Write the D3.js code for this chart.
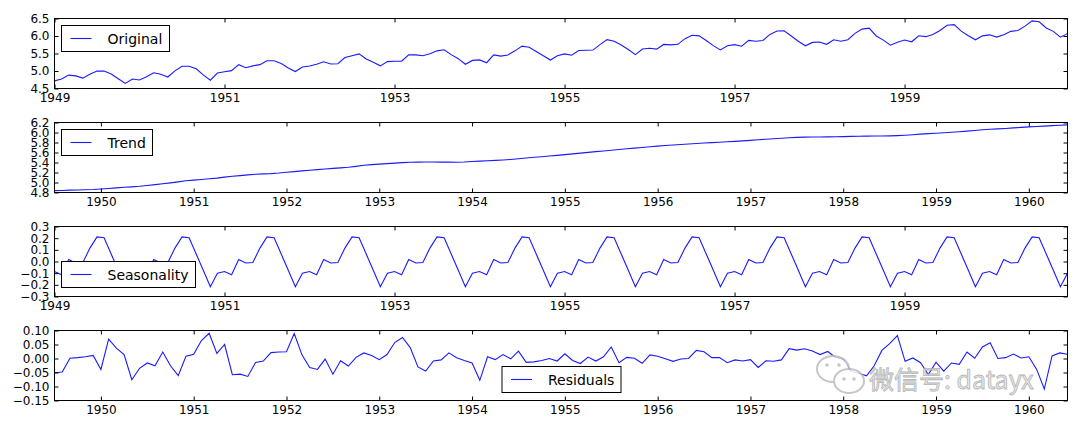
<!DOCTYPE html>
<html>
<head>
<meta charset="utf-8">
<script src="https://cdn.jsdelivr.net/npm/d3@7"></script>
<style>
  html, body { margin: 0; padding: 0; background: #fff; }
  svg { display: block; font-family: "DejaVu Sans", sans-serif; }
</style>
</head>
<body>
<div id="chart"></div>
<script>
// log(passengers), monthly 1949-01 .. 1960-12
const original = [
  4.718, 4.771, 4.883, 4.860, 4.796, 4.905, 4.997, 4.997, 4.913, 4.779, 4.644, 4.771,
  4.745, 4.836, 4.949, 4.905, 4.828, 5.004, 5.136, 5.136, 5.063, 4.890, 4.736, 4.942,
  4.977, 5.011, 5.182, 5.094, 5.147, 5.182, 5.293, 5.293, 5.215, 5.088, 4.984, 5.112,
  5.142, 5.193, 5.263, 5.199, 5.209, 5.385, 5.438, 5.489, 5.342, 5.252, 5.147, 5.268,
  5.278, 5.278, 5.464, 5.460, 5.434, 5.493, 5.576, 5.606, 5.468, 5.352, 5.193, 5.303,
  5.318, 5.236, 5.460, 5.425, 5.455, 5.576, 5.710, 5.680, 5.557, 5.434, 5.313, 5.434,
  5.489, 5.451, 5.587, 5.595, 5.598, 5.753, 5.897, 5.849, 5.743, 5.613, 5.468, 5.628,
  5.649, 5.624, 5.759, 5.746, 5.762, 5.924, 6.023, 6.004, 5.872, 5.724, 5.602, 5.724,
  5.753, 5.707, 5.875, 5.852, 5.872, 6.045, 6.142, 6.146, 6.001, 5.849, 5.720, 5.817,
  5.829, 5.762, 5.892, 5.852, 5.894, 6.075, 6.196, 6.225, 6.001, 5.883, 5.737, 5.820,
  5.886, 5.835, 6.006, 5.981, 6.040, 6.157, 6.306, 6.326, 6.138, 6.009, 5.892, 6.004,
  6.033, 5.969, 6.038, 6.133, 6.157, 6.282, 6.433, 6.407, 6.230, 6.133, 5.966, 6.068
]

// 1949-07 .. 1960-06
const trend = [
  4.837, 4.841, 4.847, 4.851, 4.855, 4.860,
  4.870, 4.881, 4.893, 4.904, 4.913, 4.924, 4.941, 4.957, 4.974, 4.992, 5.013, 5.034,
  5.048, 5.061, 5.074, 5.088, 5.107, 5.124, 5.138, 5.153, 5.164, 5.172, 5.178, 5.189,
  5.204, 5.218, 5.232, 5.244, 5.257, 5.271, 5.283, 5.292, 5.304, 5.323, 5.344, 5.357,
  5.368, 5.378, 5.388, 5.398, 5.404, 5.407, 5.410, 5.410, 5.408, 5.407, 5.406, 5.411,
  5.420, 5.428, 5.435, 5.442, 5.451, 5.461, 5.474, 5.490, 5.504, 5.516, 5.529, 5.543,
  5.558, 5.573, 5.588, 5.603, 5.617, 5.631, 5.646, 5.660, 5.674, 5.688, 5.701, 5.715,
  5.727, 5.739, 5.751, 5.761, 5.771, 5.780, 5.789, 5.797, 5.805, 5.814, 5.823, 5.833,
  5.843, 5.854, 5.865, 5.876, 5.886, 5.895, 5.902, 5.907, 5.910, 5.911, 5.912, 5.914,
  5.917, 5.923, 5.926, 5.928, 5.930, 5.931, 5.933, 5.938, 5.946, 5.956, 5.968, 5.977,
  5.985, 5.994, 6.004, 6.015, 6.027, 6.041, 6.055, 6.066, 6.073, 6.081, 6.092, 6.102,
  6.113, 6.121, 6.128, 6.137, 6.146, 6.152
]

// 1949-01 .. 1960-12
const seasonal = [
  -0.086, -0.114, 0.018, -0.013, -0.009, 0.115, 0.211, 0.204, 0.065, -0.075, -0.216, -0.100,
  -0.086, -0.114, 0.018, -0.013, -0.009, 0.115, 0.211, 0.204, 0.065, -0.075, -0.216, -0.100,
  -0.086, -0.114, 0.018, -0.013, -0.009, 0.115, 0.211, 0.204, 0.065, -0.075, -0.216, -0.100,
  -0.086, -0.114, 0.018, -0.013, -0.009, 0.115, 0.211, 0.204, 0.065, -0.075, -0.216, -0.100,
  -0.086, -0.114, 0.018, -0.013, -0.009, 0.115, 0.211, 0.204, 0.065, -0.075, -0.216, -0.100,
  -0.086, -0.114, 0.018, -0.013, -0.009, 0.115, 0.211, 0.204, 0.065, -0.075, -0.216, -0.100,
  -0.086, -0.114, 0.018, -0.013, -0.009, 0.115, 0.211, 0.204, 0.065, -0.075, -0.216, -0.100,
  -0.086, -0.114, 0.018, -0.013, -0.009, 0.115, 0.211, 0.204, 0.065, -0.075, -0.216, -0.100,
  -0.086, -0.114, 0.018, -0.013, -0.009, 0.115, 0.211, 0.204, 0.065, -0.075, -0.216, -0.100,
  -0.086, -0.114, 0.018, -0.013, -0.009, 0.115, 0.211, 0.204, 0.065, -0.075, -0.216, -0.100,
  -0.086, -0.114, 0.018, -0.013, -0.009, 0.115, 0.211, 0.204, 0.065, -0.075, -0.216, -0.100,
  -0.086, -0.114, 0.018, -0.013, -0.009, 0.115, 0.211, 0.204, 0.065, -0.075, -0.216, -0.100
]

// 1949-07 .. 1960-06
const residuals = [
  -0.051, -0.048, 0.001, 0.003, 0.006, 0.011,
  -0.039, 0.069, 0.037, 0.014, -0.076, -0.035, -0.016, -0.026, 0.023, -0.026, -0.061, 0.008,
  0.015, 0.064, 0.090, 0.018, 0.050, -0.058, -0.056, -0.064, -0.014, -0.009, 0.021, 0.023,
  0.024, 0.089, 0.013, -0.032, -0.039, -0.002, -0.056, -0.008, -0.027, 0.004, 0.020, 0.011,
  -0.004, 0.014, 0.057, 0.075, 0.039, -0.030, -0.045, -0.009, -0.005, 0.020, 0.003, -0.007,
  -0.016, -0.078, 0.006, -0.004, 0.014, -0.001, 0.026, -0.014, -0.012, -0.007, 0.000, -0.009,
  0.017, -0.007, -0.018, 0.005, -0.009, 0.006, 0.041, -0.015, 0.004, 0.001, -0.017, 0.013,
  0.008, -0.001, -0.010, -0.002, 0.000, 0.029, 0.024, 0.003, 0.003, -0.015, -0.005, -0.009,
  -0.004, -0.032, -0.008, -0.010, -0.005, 0.035, 0.030, 0.035, 0.027, 0.014, 0.025, 0.004,
  -0.003, -0.046, -0.053, -0.062, -0.026, 0.029, 0.053, 0.082, -0.010, 0.002, -0.015, -0.057,
  -0.013, -0.045, -0.016, -0.021, 0.023, 0.001, 0.041, 0.056, 0.000, 0.003, 0.016, 0.002,
  0.006, -0.038, -0.109, 0.009, 0.020, 0.015
]

const everyOtherYear = [1949, 1951, 1953, 1955, 1957, 1959]
const everyYear = [1950, 1951, 1952, 1953, 1954, 1955, 1956, 1957, 1958, 1959, 1960]
const originalTicks = [4.5, 5.0, 5.5, 6.0, 6.5]
const trendTicks = [4.8, 5.0, 5.2, 5.4, 5.6, 5.8, 6.0, 6.2]
const seasonalTicks = [-0.3, -0.2, -0.1, 0.0, 0.1, 0.2, 0.3]
const residualTicks = [-0.15, -0.10, -0.05, 0.00, 0.05, 0.10]

// 月份 -> 小数年份
const fullMonths = d3.range(original.length).map(i => 1949 + i / 12)
const innerMonths = fullMonths.slice(6, 6 + trend.length)

const panels = [
  { label: 'Original', values: original, months: fullMonths, yDomain: [4.5, 6.5], yTicks: originalTicks, fmt: '.1f', xTicks: everyOtherYear, legend: 'upper left' },
  { label: 'Trend', values: trend, months: innerMonths, yDomain: [4.8, 6.2], yTicks: trendTicks, fmt: '.1f', xTicks: everyYear, legend: 'upper left' },
  { label: 'Seasonality', values: seasonal, months: fullMonths, yDomain: [-0.3, 0.3], yTicks: seasonalTicks, fmt: '.1f', xTicks: everyOtherYear, legend: 'lower left' },
  { label: 'Residuals', values: residuals, months: innerMonths, yDomain: [-0.15, 0.10], yTicks: residualTicks, fmt: '.2f', xTicks: everyYear, legend: 'lower center' }
]

const width = 1080, height = 429
const left = 54.5, right = 1067.5
const tops = [18.5, 122.5, 226.5, 330.5]
const ph = 70

const svg = d3.select('#chart').append('svg')
  .attr('width', width)
  .attr('height', height)

svg.append('rect').attr('width', width).attr('height', height).attr('fill', '#fff')

function styleAxis(sel) {
  sel.select('.domain').remove()
  sel.selectAll('line').attr('stroke', '#000')
  sel.selectAll('text').attr('fill', '#000').attr('font-size', 12)
  sel.attr('font-family', null)
}

panels.forEach((p, i) => {
  const g = svg.append('g').attr('transform', `translate(0,${tops[i]})`)
  const m = p.months
  const x = d3.scaleLinear().domain([m[0], m[m.length - 1]]).range([left, right])
  const y = d3.scaleLinear().domain(p.yDomain).range([ph, 0])

  const line = d3.line()
    .x((d, j) => x(m[j]))
    .y(d => y(d))

  g.append('path')
    .datum(p.values)
    .attr('d', line)
    .attr('fill', 'none')
    .attr('stroke', '#1a1aff')
    .attr('stroke-width', 1.1)

  // ticks point inward on all four sides
  g.append('g').attr('transform', `translate(0,${ph})`)
    .call(d3.axisBottom(x).tickValues(p.xTicks).tickFormat(d3.format('d')).tickSize(-4).tickPadding(5))
    .call(styleAxis)
  g.append('g')
    .call(d3.axisTop(x).tickValues(p.xTicks).tickFormat('').tickSize(-4))
    .call(styleAxis)
  g.append('g').attr('transform', `translate(${left},0)`)
    .call(d3.axisLeft(y).tickValues(p.yTicks).tickFormat(d3.format(p.fmt)).tickSize(-4).tickPadding(5))
    .call(styleAxis)
  g.append('g').attr('transform', `translate(${right},0)`)
    .call(d3.axisRight(y).tickValues(p.yTicks).tickFormat('').tickSize(-4))
    .call(styleAxis)

  g.append('rect')
    .attr('x', left).attr('y', 0)
    .attr('width', right - left).attr('height', ph)
    .attr('fill', 'none')
    .attr('stroke', '#000')
    .attr('stroke-width', 1)

  // legend
  const lg = g.append('g')
  const box = lg.append('rect')
    .attr('fill', '#fff')
    .attr('stroke', '#000')
    .attr('stroke-width', 1)
  lg.append('line')
    .attr('x1', 9).attr('x2', 30).attr('y1', 13).attr('y2', 13)
    .attr('stroke', '#1a1aff').attr('stroke-width', 1.1)
  const txt = lg.append('text')
    .attr('x', 46).attr('y', 18)
    .attr('font-size', 14)
    .attr('fill', '#000')
    .text(p.label)
  const bw = Math.round(46 + txt.node().getComputedTextLength() + 7)
  const bh = 26
  box.attr('width', bw).attr('height', bh)

  let lx = left + 7, ly = 7
  if (p.legend === 'lower left') ly = ph - bh - 9
  if (p.legend === 'lower center') { lx = Math.round((left + right - bw) / 2); ly = ph - bh - 8 }
  lg.attr('transform', `translate(${lx},${ly})`)
})

// 水印
const wm = svg.append('g').attr('opacity', 0.85)
wm.append('ellipse').attr('cx', 833).attr('cy', 369).attr('rx', 16).attr('ry', 13)
  .attr('fill', '#fff').attr('stroke', '#bdbdbd').attr('stroke-width', 2)
wm.append('ellipse').attr('cx', 849).attr('cy', 381).attr('rx', 15).attr('ry', 12)
  .attr('fill', '#fff').attr('stroke', '#bdbdbd').attr('stroke-width', 2)
;[[827, 365], [839, 365], [844, 379], [854, 379]].forEach(([cx, cy]) => {
  wm.append('circle').attr('cx', cx).attr('cy', cy).attr('r', 1.8).attr('fill', '#bdbdbd')
})
wm.append('text')
  .attr('x', 869).attr('y', 389)
  .attr('font-family', '"Noto Sans CJK SC", sans-serif')
  .attr('font-size', 25)
  .attr('fill', '#e6e6e6')
  .attr('stroke', '#a9a9a9')
  .attr('stroke-width', 0.8)
  .text('微信号: datayx')
</script>
</body>
</html>
